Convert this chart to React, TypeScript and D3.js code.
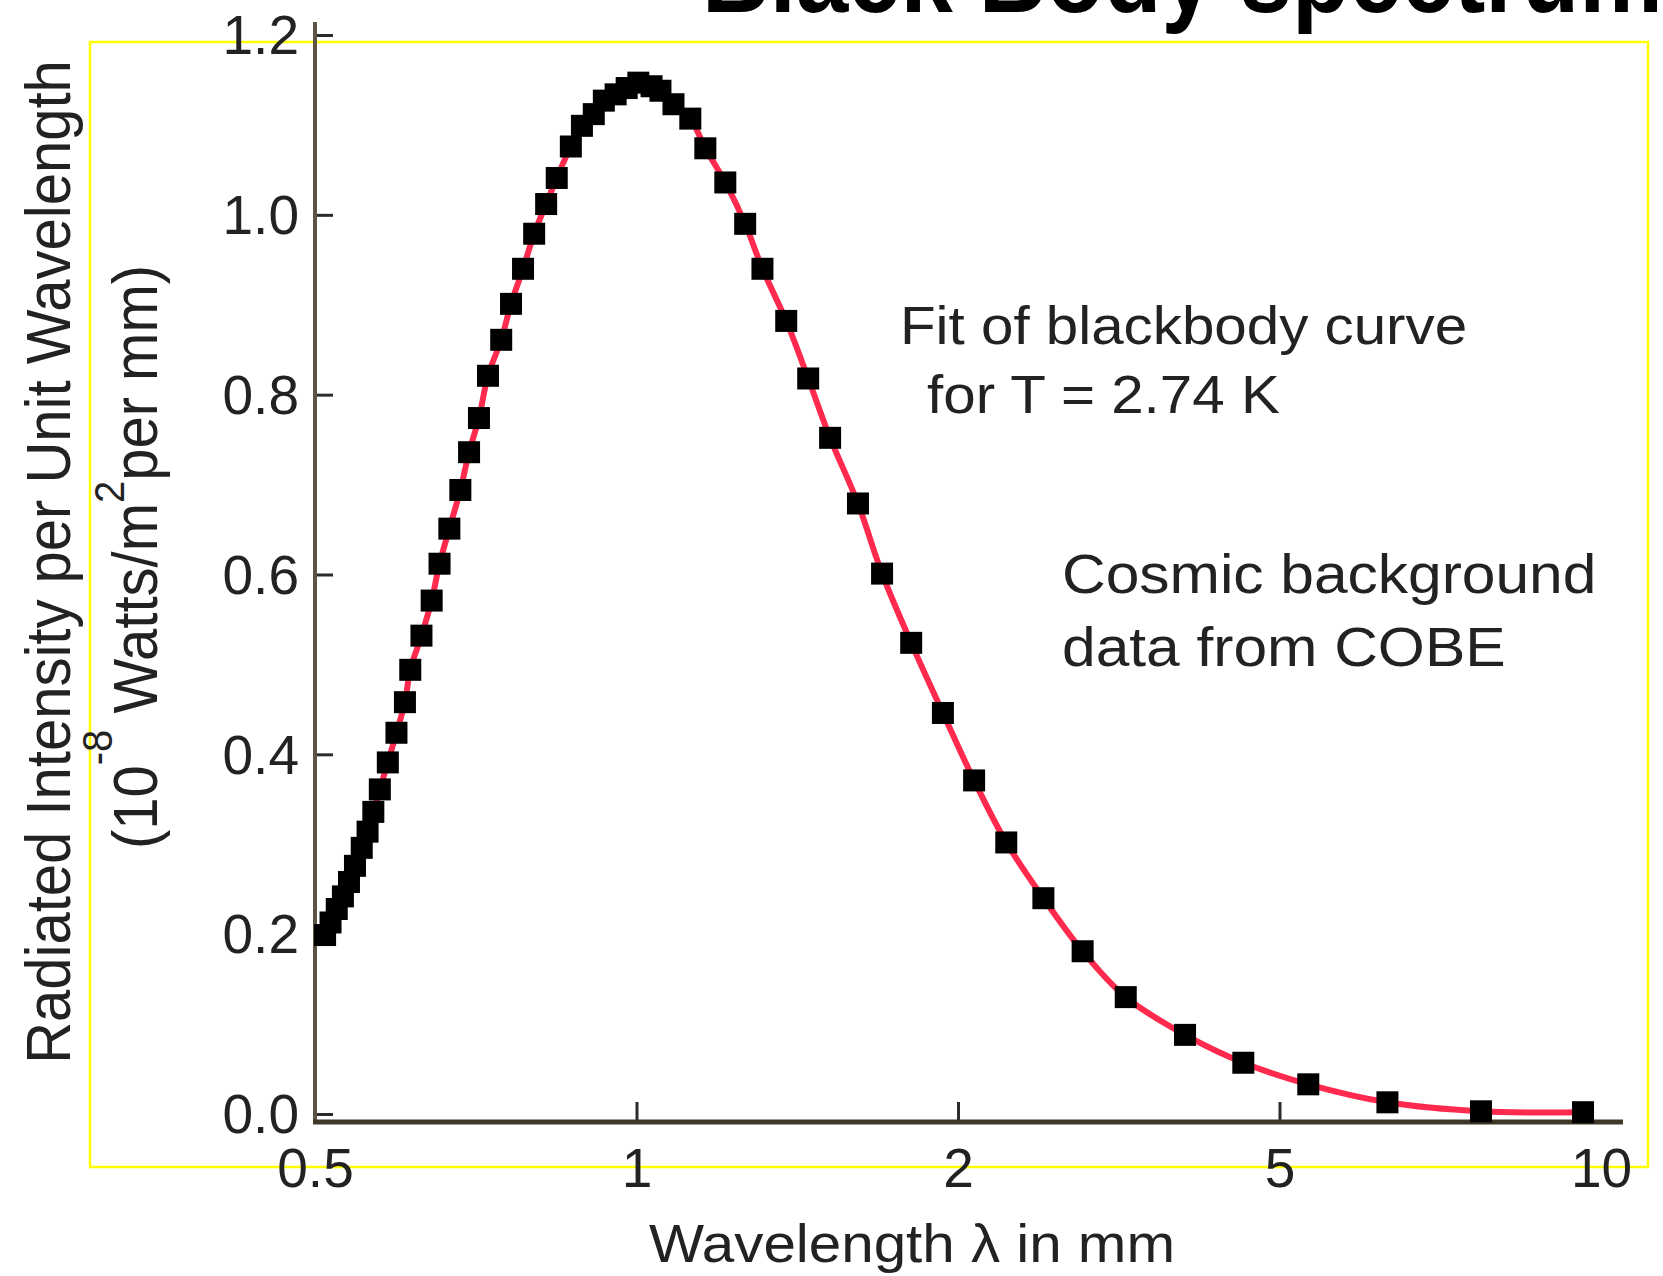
import React, { useRef, useEffect } from "react";
import * as d3 from "d3";

// COBE cosmic background points (wavelength in mm)
const wavelengths = [
  0.511, 0.517, 0.524, 0.531, 0.538, 0.545, 0.553, 0.56, 0.567, 0.575,
  0.585, 0.596, 0.607, 0.614, 0.629, 0.643, 0.654, 0.668, 0.684, 0.697,
  0.712, 0.726, 0.747, 0.763, 0.783, 0.802, 0.823, 0.842, 0.868, 0.889,
  0.912, 0.932, 0.956, 0.979, 1.004, 1.033, 1.053, 1.083, 1.123, 1.16,
  1.211, 1.264, 1.312, 1.381, 1.448, 1.518, 1.612, 1.698, 1.808, 1.936,
  2.094, 2.295, 2.551, 2.853, 3.226, 3.82, 4.51, 5.32, 6.31, 7.72, 9.62,
];

// intensity in 10^-8 W/m^2 per mm
const intensities = [
  0.199, 0.213, 0.228, 0.242, 0.258, 0.276, 0.296, 0.314, 0.336, 0.361,
  0.391, 0.424, 0.458, 0.494, 0.532, 0.571, 0.612, 0.651, 0.694, 0.736,
  0.774, 0.821, 0.861, 0.901, 0.94, 0.979, 1.012, 1.041, 1.076, 1.099,
  1.112, 1.127, 1.134, 1.141, 1.147, 1.143, 1.138, 1.123, 1.107, 1.074,
  1.036, 0.99, 0.94, 0.882, 0.818, 0.752, 0.679, 0.601, 0.524, 0.446,
  0.371, 0.302, 0.24, 0.181, 0.13, 0.088, 0.057, 0.033, 0.013, 0.003, 0.002,
];

const yTicks = [0, 0.2, 0.4, 0.6, 0.8, 1.0, 1.2];
const xTicks = [0.5, 1, 2, 5, 10];
const xTickLabels = ["0.5", "1", "2", "5", "10"];
const xMarkedTicks = [1, 2, 5];

const FONT = "'Liberation Sans', Arial, Helvetica, sans-serif";
const STRETCH = 1.08; // the original picture is a bit wider than tall

const App = () => {
  const svgRef = useRef(null);

  useEffect(() => {
    const svg = d3.select(svgRef.current);
    svg.selectAll("*").remove();

    const left = 315;
    const right = 1601;
    const top = 35;
    const zeroY = 1114;
    const axisY = 1122;

    // the wavelength axis puts 0.5, 1, 2, 5, 10 at equal steps
    const x = d3
      .scaleLog()
      .domain(xTicks)
      .range(xTicks.map((_, i) => left + (i * (right - left)) / (xTicks.length - 1)));
    const y = d3.scaleLinear().domain([0, 1.2]).range([zeroY, top]);

    svg
      .append("rect")
      .attr("x", 90)
      .attr("y", 42)
      .attr("width", 1558)
      .attr("height", 1125)
      .attr("fill", "none")
      .attr("stroke", "#ffff00")
      .attr("stroke-width", 2.5);

    // slide title, mostly above the top edge as in the source
    svg
      .append("g")
      .attr("transform", "translate(702,12) scale(0.87,1)")
      .append("text")
      .attr("font-family", FONT)
      .attr("font-weight", "bold")
      .attr("font-size", 108)
      .attr("fill", "#000")
      .text("Black Body spectrum");

    const label = (tx, ty, size, str, anchor = "start") =>
      svg
        .append("g")
        .attr("transform", `translate(${tx},${ty}) scale(${STRETCH},1)`)
        .append("text")
        .attr("font-family", FONT)
        .attr("font-size", size)
        .attr("fill", "#222")
        .attr("text-anchor", anchor)
        .text(str);

    label(900, 344, 54, "Fit of blackbody curve");
    label(927, 413, 54, "for T = 2.74 K");
    label(1062, 593, 56, "Cosmic background");
    label(1062, 666, 56, "data from COBE");
    label(912, 1262, 54, "Wavelength \u03bb in mm", "middle");

    // y title, two lines
    svg
      .append("g")
      .attr("transform", `translate(70,562) scale(${STRETCH},1) rotate(-90)`)
      .append("text")
      .attr("font-family", FONT)
      .attr("font-size", 58)
      .attr("fill", "#222")
      .attr("text-anchor", "middle")
      .text("Radiated Intensity per Unit Wavelength");

    const unit = svg
      .append("g")
      .attr("transform", `translate(157,557) scale(${STRETCH},1) rotate(-90)`)
      .append("text")
      .attr("font-family", FONT)
      .attr("font-size", 58)
      .attr("fill", "#222")
      .attr("text-anchor", "middle");
    unit.append("tspan").text("(10");
    unit.append("tspan").attr("font-size", 40).attr("dy", -42).text("-8");
    unit.append("tspan").attr("dy", 42).text(" Watts/m");
    unit.append("tspan").attr("font-size", 40).attr("dy", -31).text("2");
    unit.append("tspan").attr("dy", 31).text("per mm)");

    // y axis
    const yAxis = d3
      .axisLeft(y)
      .tickValues(yTicks)
      .tickSize(-18)
      .tickPadding(16)
      .tickFormat(d3.format(".1f"));
    const gy = svg.append("g").attr("transform", `translate(${left},0)`).call(yAxis);
    gy.select(".domain").remove();
    gy.attr("font-size", null).attr("font-family", null);
    gy.selectAll("line").attr("stroke", "#2b2b2b").attr("stroke-width", 3);
    gy.selectAll("text")
      .attr("font-family", FONT)
      .attr("font-size", 55)
      .attr("fill", "#222")
      .attr("dy", "0.34em");

    svg
      .append("line")
      .attr("x1", left)
      .attr("x2", left)
      .attr("y1", 22)
      .attr("y2", axisY)
      .attr("stroke", "#5b5344")
      .attr("stroke-width", 4);

    // x axis
    const xAxis = d3
      .axisBottom(x)
      .tickValues(xTicks)
      .tickSize(-20)
      .tickPadding(26)
      .tickFormat((d, i) => xTickLabels[i]);
    const gx = svg.append("g").attr("transform", `translate(0,${axisY})`).call(xAxis);
    gx.select(".domain").remove();
    gx.attr("font-size", null).attr("font-family", null);
    gx.selectAll(".tick")
      .filter((d) => !xMarkedTicks.includes(d))
      .select("line")
      .remove();
    gx.selectAll("line").attr("stroke", "#2b2b2b").attr("stroke-width", 3);
    gx.selectAll("text")
      .attr("font-family", FONT)
      .attr("font-size", 55)
      .attr("fill", "#222");

    svg
      .append("line")
      .attr("x1", left - 2)
      .attr("x2", 1623)
      .attr("y1", axisY)
      .attr("y2", axisY)
      .attr("stroke", "#3f3829")
      .attr("stroke-width", 5);

    // blackbody fit curve
    const fit = d3
      .line()
      .x((d, i) => x(wavelengths[i]))
      .y((d) => y(d))
      .curve(d3.curveCatmullRom.alpha(0.5));

    svg
      .append("path")
      .attr("d", fit(intensities))
      .attr("fill", "none")
      .attr("stroke", "#ff2a4d")
      .attr("stroke-width", 6)
      .attr("stroke-linejoin", "round");

    svg
      .selectAll(".pt")
      .data(intensities)
      .join("rect")
      .attr("class", "pt")
      .attr("x", (d, i) => x(wavelengths[i]) - 11)
      .attr("y", (d) => y(d) - 11)
      .attr("width", 22)
      .attr("height", 22)
      .attr("fill", "#000");
  }, []);

  return (
    <svg
      ref={svgRef}
      width={1663}
      height={1276}
      style={{ position: "absolute", left: 0, top: 0, background: "#fff", display: "block" }}
    />
  );
};

export default App;
